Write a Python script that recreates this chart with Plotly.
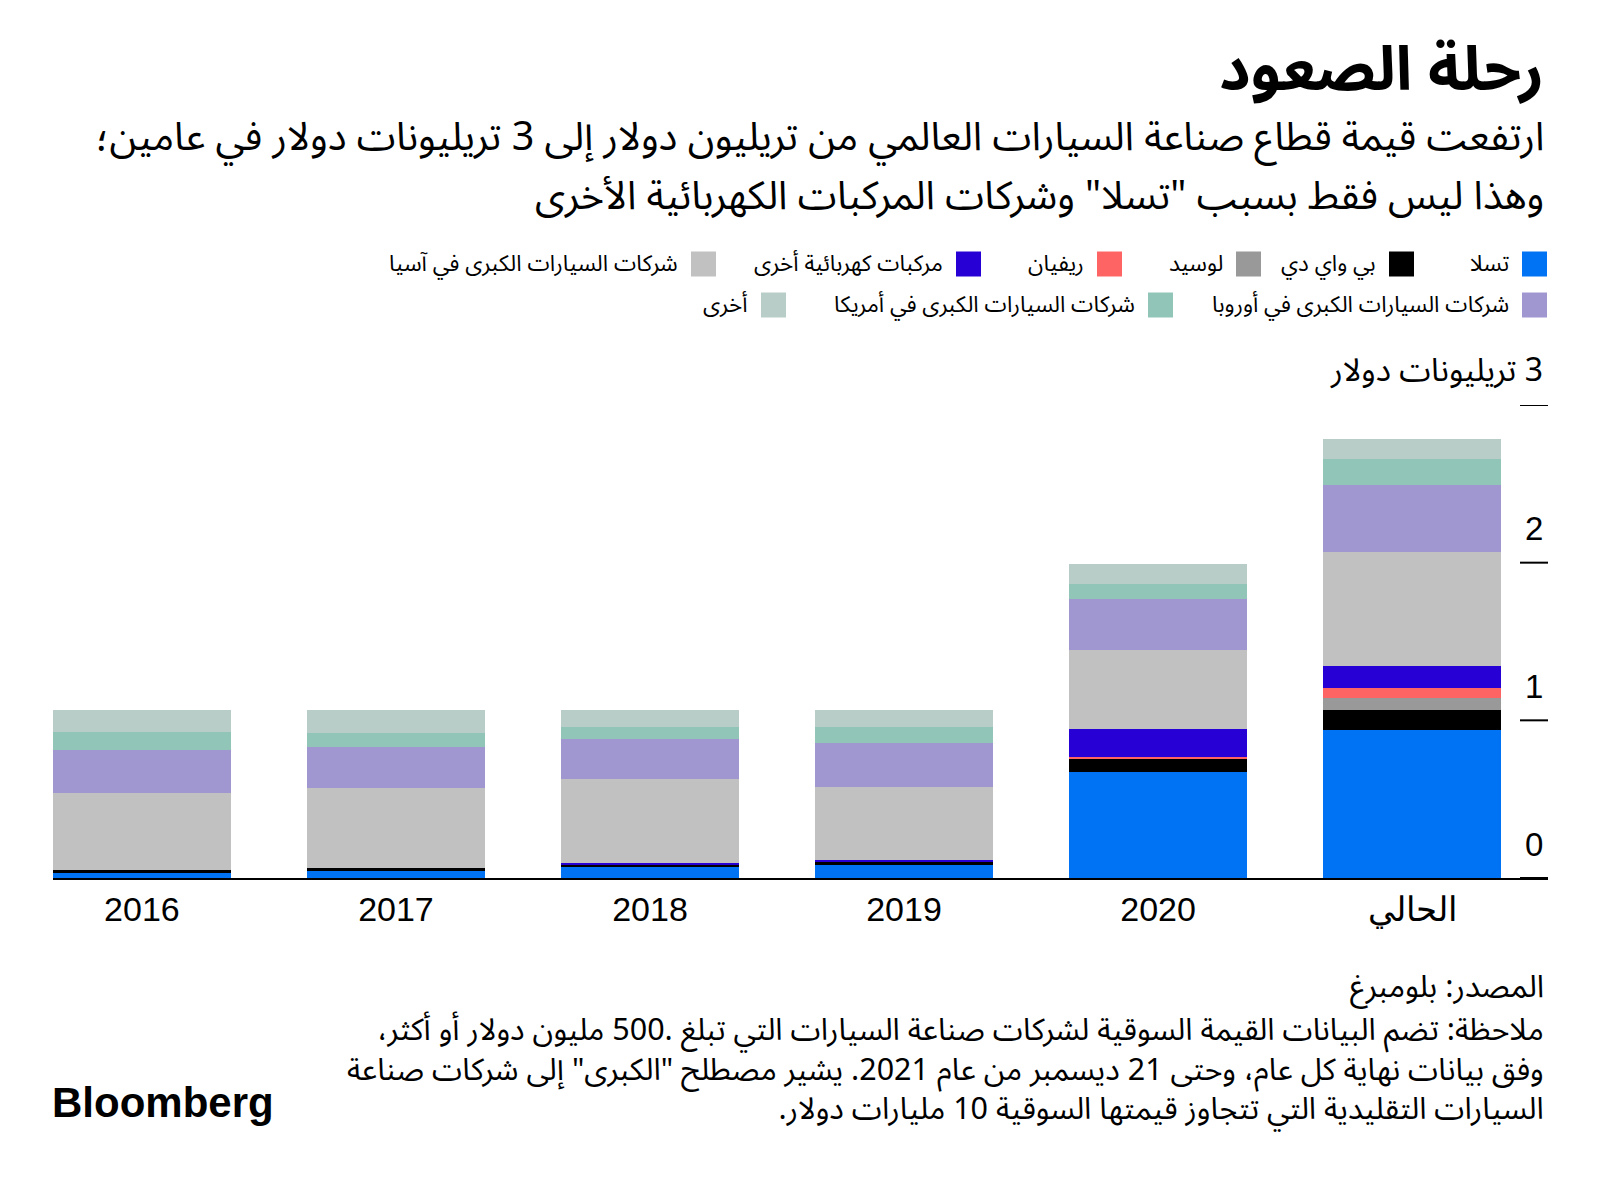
import plotly.graph_objects as go

# ---------------- data ----------------
categories = ["2016", "2017", "2018", "2019", "2020", "الحالي"]
tesla    = [0.033, 0.045, 0.068, 0.080, 0.673, 0.941]
byd      = [0.015, 0.018, 0.019, 0.021, 0.082, 0.127]
lucid    = [0.0,   0.0,   0.0,   0.0,   0.0,   0.076]
rivian   = [0.0,   0.0,   0.0,   0.0,   0.015, 0.061]
other_ev = [0.0,   0.0,   0.010, 0.013, 0.175, 0.140]
asia     = [0.490, 0.505, 0.534, 0.466, 0.500, 0.720]
europe   = [0.277, 0.262, 0.249, 0.276, 0.323, 0.428]
america  = [0.108, 0.092, 0.078, 0.099, 0.095, 0.163]
others   = [0.141, 0.142, 0.110, 0.112, 0.127, 0.127]

series_names = [
    "تسلا", "بي واي دي", "لوسيد", "ريفيان", "مركبات كهربائية أخرى",
    "شركات السيارات الكبرى في آسيا", "شركات السيارات الكبرى في أوروبا",
    "شركات السيارات الكبرى في أمريكا", "أخرى",
]
series_values = [tesla, byd, lucid, rivian, other_ev, asia, europe, america, others]
series_colors = ["#0073F5", "#000000", "#999999", "#FF6464", "#2700D6",
                 "#C1C1C1", "#A096D0", "#90C5B8", "#B8CDC7"]

y_tick_values = [0, 1, 2, 3]
y_tick_labels = ["0", "1", "2", "3 تريليونات دولار"]

title = "رحلة الصعود"
subtitle_lines = [
    "ارتفعت قيمة قطاع صناعة السيارات العالمي من تريليون دولار إلى 3 تريليونات دولار في عامين؛",
    "وهذا ليس فقط بسبب \"تسلا\" وشركات المركبات الكهربائية الأخرى",
]
source_text = "المصدر: بلومبرغ"
note_lines = [
    "ملاحظة: تضم البيانات القيمة السوقية لشركات صناعة السيارات التي تبلغ .500 مليون دولار أو أكثر،",
    "وفق بيانات نهاية كل عام، وحتى 21 ديسمبر من عام 2021. يشير مصطلح \"الكبرى\" إلى شركات صناعة",
    "السيارات التقليدية التي تتجاوز قيمتها السوقية 10 مليارات دولار.",
]

# ---------------- layout geometry (screen pixels) ----------------
OFF = 8                      # default body margin of the html page
SW_, SH_ = 1600, 1181        # screenshot size
W, H = SW_ - OFF, SH_ - OFF  # figure size
PL, PR, PT, PB = 53, 1548, 405, 878   # plot area in screen pixels

def px(X):
    return (X - PL) / (PR - PL)

def py(Y):
    return (PB - Y) / (PB - PT)

def rtl(s):
    return "\u202b" + s + "\u202c"

AR = "Noto Sans Arabic, DejaVu Sans, sans-serif"
LAT = "Liberation Sans, Arial, sans-serif"

fig = go.Figure()
for name, vals, col in zip(series_names, series_values, series_colors):
    fig.add_trace(go.Bar(x=categories, y=vals, name=name,
                         marker=dict(color=col, line=dict(width=0)),
                         showlegend=False))

annotations = []
shapes = []

# title / subtitle
annotations.append(dict(text="<b>" + rtl(title) + "</b>", x=px(1546), y=py(70),
                        xref="paper", yref="paper", xanchor="right", yanchor="middle",
                        showarrow=False, font=dict(family=AR, size=61, color="#000")))
for i, line in enumerate(subtitle_lines):
    annotations.append(dict(text=rtl(line), x=px(1546), y=py(137 + 60 * i),
                            xref="paper", yref="paper", xanchor="right", yanchor="middle",
                            showarrow=False, font=dict(family=AR, size=39.5, color="#000")))

# custom RTL legend
legend_pos = [(264, 1547), (264, 1414), (264, 1261), (264, 1122), (264, 981),
              (264, 716), (305, 1547), (305, 1173), (305, 786)]
SW = 25
for name, col, (yc, xr) in zip(series_names, series_colors, legend_pos):
    shapes.append(dict(type="rect", xref="paper", yref="paper",
                       x0=px(xr - SW), x1=px(xr), y0=py(yc + SW / 2), y1=py(yc - SW / 2),
                       fillcolor=col, line=dict(width=0)))
    annotations.append(dict(text=rtl(name), x=px(xr - SW - 11), y=py(yc),
                            xref="paper", yref="paper", xanchor="right", yanchor="middle",
                            showarrow=False, font=dict(family=AR, size=22.5, color="#000")))

# y ticks: short lines with labels above
for v, lab in zip(y_tick_values, y_tick_labels):
    shapes.append(dict(type="line", xref="paper", yref="y", x0=px(1520), x1=px(1548),
                       y0=v, y1=v, line=dict(color="#000", width=2)))
    annotations.append(dict(text=rtl(lab), x=px(1545), y=v, yshift=34,
                            xref="paper", yref="y", xanchor="right", yanchor="middle",
                            showarrow=False,
                            font=dict(family=AR if v == 3 else LAT,
                                      size=32 if v == 3 else 33, color="#000")))

# footer
annotations.append(dict(text=rtl(source_text), x=px(1546), y=py(987),
                        xref="paper", yref="paper", xanchor="right", yanchor="middle",
                        showarrow=False, font=dict(family=AR, size=31, color="#000")))
annotations.append(dict(text="<br>".join(rtl(l) for l in note_lines),
                        x=px(1546), y=py(1070),
                        xref="paper", yref="paper", xanchor="right", yanchor="middle",
                        align="right", showarrow=False,
                        font=dict(family=AR, size=30.5, color="#000")))
annotations.append(dict(text="<b>Bloomberg</b>", x=px(50), y=py(1102),
                        xref="paper", yref="paper", xanchor="left", yanchor="middle",
                        showarrow=False, font=dict(family=LAT, size=42, color="#000")))

fig.update_layout(
    width=W, height=H,
    margin=dict(l=PL - OFF, r=SW_ - PR, t=PT - OFF, b=SH_ - PB, pad=0),
    paper_bgcolor="white", plot_bgcolor="white",
    barmode="stack", bargap=0.3,
    showlegend=False,
    xaxis=dict(type="category", range=[-0.35, 5.535], showline=True, linecolor="#000",
               linewidth=2, ticks="", showgrid=False, zeroline=False,
               tickfont=dict(family=LAT, size=34, color="#000"),
               ticklabelstandoff=0, fixedrange=True),
    yaxis=dict(range=[0, 3], showticklabels=False, showgrid=False, zeroline=False,
               ticks="", fixedrange=True),
    annotations=annotations,
    shapes=shapes,
)

fig.write_html("out.html")
